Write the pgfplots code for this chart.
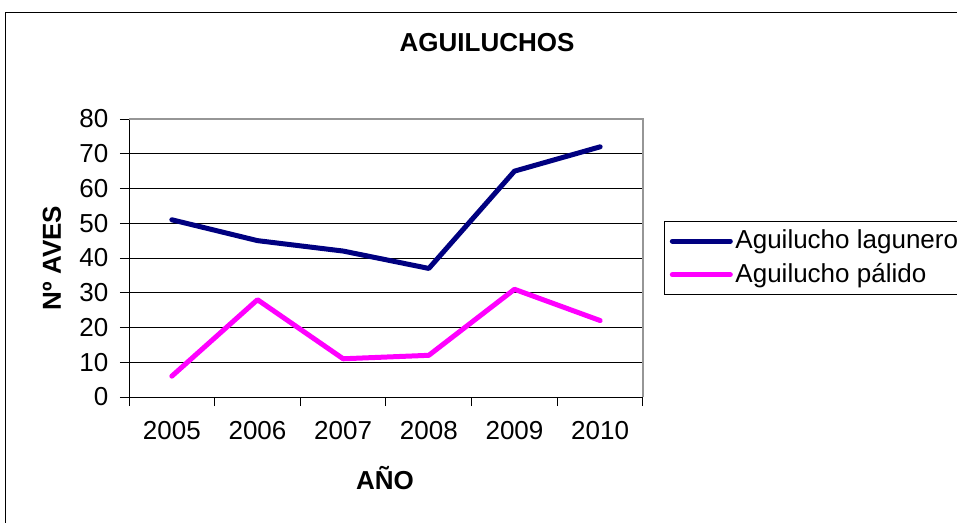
\documentclass[border=0pt]{standalone}
\usepackage{fontspec}
\setmainfont{Liberation Sans}
\usepackage{pgfplots}
\pgfplotsset{compat=1.18}
\definecolor{navyline}{RGB}{0,0,128}
\definecolor{magline}{RGB}{255,0,255}
\definecolor{framegray}{RGB}{150,150,150}

\begin{document}
\begin{tikzpicture}
  \fontsize{19.5}{22}\selectfont
  \path[use as bounding box] (0,0) rectangle (717.75pt,-391.5pt);
  \draw[black, line width=0.75pt] (3.75pt,-400pt) -- (3.75pt,-9pt) -- (730pt,-9pt);
  \node[font=\fontsize{19.5}{22}\selectfont\bfseries] at (365.25pt,-32.25pt) {AGUILUCHOS};
  \node[font=\fontsize{19.5}{22}\selectfont\bfseries, rotate=90] at (39pt,-193.5pt) {Nº AVES};
  \node[font=\fontsize{19.5}{22}\selectfont\bfseries] at (288.75pt,-358.5pt) {AÑO};
  \begin{axis}[
      at={(96.75pt,-297.75pt)}, anchor=south west,
      scale only axis, width=385.5pt, height=208.5pt,
      xmin=0, xmax=6, ymin=0, ymax=80,
      xtick={0.5,1.5,2.5,3.5,4.5,5.5},
      xticklabels={2005,2006,2007,2008,2009,2010},
      minor xtick={0,1,2,3,4,5,6},
      ytick={0,10,...,80},
      ymajorgrids, grid style={black, line width=0.75pt},
      major x tick style={draw=none},
      minor x tick style={black, line width=0.75pt},
      major y tick style={black, line width=0.75pt},
      tick align=outside,
      major tick length=6.75pt, minor tick length=6.75pt,
      xtick pos=bottom, ytick pos=left,
      axis line style={line width=0.75pt},
      axis x line*=bottom, axis y line*=left,
      x axis line style={-}, y axis line style={-},
      tick label style={font=\fontsize{19.5}{22}\selectfont},
      /pgf/number format/assume math mode=true,
      xticklabel style={yshift=-5pt},
      yticklabel style={xshift=-2pt},
      legend style={at={(1,0.5)}, anchor=west, xshift=15.75pt,
        draw=black, line width=0.75pt, font=\fontsize{19.5}{22}\selectfont,
        row sep=4pt, inner xsep=4pt, inner ysep=4pt},
      legend cell align=left,
      legend image code/.code={\draw[#1, line cap=round] (0pt,0pt) -- (43.5pt,0pt);},
      clip=false,
      after end axis/.code={
        \draw[framegray, line width=1pt] (rel axis cs:0,1) -- (rel axis cs:1,1) -- (rel axis cs:1,0);
      },
    ]
    \addplot[navyline, line width=3.75pt, line join=round, line cap=round]
      coordinates {(0.5,51) (1.5,45) (2.5,42) (3.5,37) (4.5,65) (5.5,72)};
    \addlegendentry{Aguilucho lagunero}
    \addplot[magline, line width=3.75pt, line join=round, line cap=round]
      coordinates {(0.5,6) (1.5,28) (2.5,11) (3.5,12) (4.5,31) (5.5,22)};
    \addlegendentry{Aguilucho pálido}
  \end{axis}
\end{tikzpicture}
\end{document}
